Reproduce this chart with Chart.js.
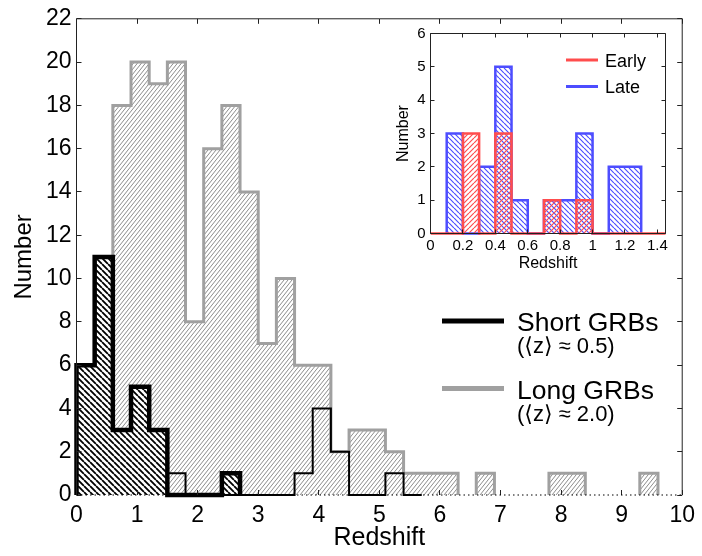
<!DOCTYPE html>
<html>
<head>
<meta charset="utf-8">
<title>GRB redshift distribution</title>
<script src="https://cdn.jsdelivr.net/npm/chart.js@4.4.0/dist/chart.umd.min.js"></script>
<style>
  html, body { margin: 0; padding: 0; background: #fff; }
  #wrap { position: relative; width: 702px; height: 556px; overflow: hidden; }
  #main { position: absolute; left: 0; top: 0; }
  #inset { position: absolute; left: 384px; top: 18px; }
</style>
</head>
<body>
<div id="wrap">
  <canvas id="main" width="702" height="556"></canvas>
  <canvas id="inset" width="305" height="265"></canvas>
</div>
<script>
// ---- main histogram: redshift bins of 0.3 ----
const binWidth = 0.3;
const longStart = 0.6;
const longCounts = [18, 20, 19, 20, 8, 16, 18, 14, 7, 10, 6, 6, 2, 3, 3, 2, 1, 1, 1, 0, 1, 0, 0, 0, 1, 1, 0, 0, 0, 1];
const shortStart = 0;
const shortCounts = [6, 11, 3, 5, 3, 0, 0, 0, 1];
const shortFaintStart = 1.5;
const shortFaintCounts = [1, 0, 0, 0, 0, 0, 0, 1, 4, 2, 0, 0, 1, 0];

const legendNames = ['Short GRBs', 'Long GRBs'];
const meanZ = [0.5, 2.0];

const xTicks = [0, 1, 2, 3, 4, 5, 6, 7, 8, 9, 10];
const yTicks = [0, 2, 4, 6, 8, 10, 12, 14, 16, 18, 20, 22];

// ---- inset: short GRBs split by host type, bins of 0.1 ----
const insetBinWidth = 0.1;
const lateStart = 0.1;
const lateCounts = [3, 0, 2, 5, 1, 0, 1, 1, 3, 0, 2, 2];
const earlyStart = 0;
const earlyCounts = [0, 0, 3, 0, 3, 0, 0, 1, 0, 1, 0, 0, 0, 0, 0];

const insetNames = ['Early', 'Late'];
const insetXTicks = [0, 0.2, 0.4, 0.6, 0.8, 1, 1.2, 1.4];
const insetXLabels = ['0', '0.2', '0.4', '0.6', '0.8', '1', '1.2', '1.4'];
const insetYTicks = [0, 1, 2, 3, 4, 5, 6];

const FONT = '"Liberation Sans", Arial, Helvetica, "DejaVu Sans", sans-serif';

// outline of a histogram as a run of horizontal/vertical points
function stepPoints(start, width, counts) {
    const edge = i => +(start + i * width).toFixed(4);
    const pts = [{x: edge(0), y: 0}];
    counts.forEach((c, i) => {
        pts.push({x: edge(i), y: c});
        pts.push({x: edge(i + 1), y: c});
    });
    pts.push({x: edge(counts.length), y: 0});
    return pts;
}

// diagonal hatch pattern; dir > 0 is "/", dir < 0 is "\"
function hatch(color, step, rise, lineWidth, back, dir) {
    const c = document.createElement('canvas');
    c.width = step;
    c.height = rise;
    const g = c.getContext('2d');
    if (back) {
        g.fillStyle = back;
        g.fillRect(0, 0, step, rise);
    }
    g.strokeStyle = color;
    g.lineWidth = lineWidth;
    g.beginPath();
    for (let k = -1; k <= 1; k++) {
        if (dir > 0) {
            g.moveTo(k * step, rise);
            g.lineTo((k + 1) * step, 0);
        } else {
            g.moveTo(k * step, 0);
            g.lineTo((k + 1) * step, rise);
        }
    }
    g.stroke();
    return g.createPattern(c, 'repeat');
}

const hideZeroRuns = {
    borderColor: s => (s.p0.parsed.y === 0 && s.p1.parsed.y === 0) ? 'rgba(0,0,0,0)' : undefined
};

// box with inward ticks on all four sides
const framePlugin = {
    id: 'frame',
    afterDatasetsDraw(chart, args, o) {
        const {ctx, chartArea: a, scales: {x, y}} = chart;
        const snap = v => Math.round(v - 0.5) + 0.5;
        ctx.save();
        ctx.strokeStyle = o.color;
        ctx.lineWidth = 1;
        ctx.beginPath();
        x.ticks.forEach(t => {
            const px = snap(x.getPixelForValue(t.value));
            ctx.moveTo(px, a.bottom); ctx.lineTo(px, a.bottom - o.tick);
            ctx.moveTo(px, a.top); ctx.lineTo(px, a.top + o.tick);
        });
        y.ticks.forEach(t => {
            const py = snap(y.getPixelForValue(t.value));
            ctx.moveTo(a.left, py); ctx.lineTo(a.left + o.tick, py);
            ctx.moveTo(a.right, py); ctx.lineTo(a.right - o.tick, py);
        });
        ctx.moveTo(a.left, a.bottom);
        ctx.lineTo(a.left, a.top);
        ctx.lineTo(a.right, a.top);
        ctx.lineTo(a.right, a.bottom);
        if (!o.dottedBase) ctx.lineTo(a.left, a.bottom);
        ctx.stroke();
        if (o.dottedBase) {
            ctx.setLineDash([1.5, 3]);
            ctx.strokeStyle = '#000';
            ctx.beginPath();
            ctx.moveTo(a.left, a.bottom);
            ctx.lineTo(a.right, a.bottom);
            ctx.stroke();
        }
        ctx.restore();
    }
};

// legend: line swatch plus name (and optional second line)
const keyPlugin = {
    id: 'key',
    afterDatasetsDraw(chart, args, o) {
        const ctx = chart.ctx;
        ctx.save();
        o.items.forEach(it => {
            ctx.strokeStyle = it.color;
            ctx.lineWidth = o.lineWidth;
            ctx.beginPath();
            ctx.moveTo(o.x0, it.y);
            ctx.lineTo(o.x1, it.y);
            ctx.stroke();
            ctx.fillStyle = '#000';
            ctx.textBaseline = 'alphabetic';
            ctx.font = o.size + 'px ' + FONT;
            ctx.fillText(it.name, o.tx, it.y + o.base);
            if (it.sub) {
                ctx.font = o.subSize + 'px ' + FONT;
                ctx.fillText(it.sub, o.tx, it.y + o.subBase);
            }
        });
        ctx.restore();
    }
};

function fixedTicks(values) {
    return scale => { scale.ticks = values.map(v => ({value: v})); };
}

const noGrid = {display: false, drawTicks: false};

// ---- main chart ----
const mainCtx = document.getElementById('main').getContext('2d');
new Chart(mainCtx, {
    type: 'line',
    data: {
        datasets: [{
            label: 'Short GRBs (uncertain)',
            data: stepPoints(shortFaintStart, binWidth, shortFaintCounts),
            borderColor: '#000',
            borderWidth: 2,
            fill: false,
            order: 1
        }, {
            label: legendNames[0],
            data: stepPoints(shortStart, binWidth, shortCounts),
            borderColor: '#000',
            borderWidth: 4.5,
            fill: 'origin',
            backgroundColor: hatch('#000', 6, 6, 1.8, '#fff', -1),
            order: 2
        }, {
            label: legendNames[1],
            data: stepPoints(longStart, binWidth, longCounts),
            borderColor: '#a0a0a0',
            borderWidth: 3,
            fill: 'origin',
            backgroundColor: hatch('#8c8c8c', 4, 5, 1, null, 1),
            segment: hideZeroRuns,
            order: 3
        }]
    },
    options: {
        responsive: false,
        animation: false,
        devicePixelRatio: 1,
        clip: 6,
        layout: {padding: {left: 0, right: 16.5, top: 15.5, bottom: 0}},
        elements: {
            point: {radius: 0},
            line: {tension: 0, borderJoinStyle: 'miter'}
        },
        scales: {
            x: {
                type: 'linear',
                min: 0,
                max: 10,
                afterBuildTicks: fixedTicks(xTicks),
                afterFit: s => { s.height = 61; },
                grid: noGrid,
                border: {display: false},
                ticks: {color: '#000', font: {family: FONT, size: 23}, padding: 7, maxRotation: 0, autoSkip: false},
                title: {display: true, text: 'Redshift', color: '#000', font: {family: FONT, size: 25}, padding: {top: 0, bottom: 3}}
            },
            y: {
                type: 'linear',
                min: 0,
                max: 22,
                afterBuildTicks: fixedTicks(yTicks),
                afterFit: s => { s.width = 76.5; },
                grid: noGrid,
                border: {display: false},
                ticks: {color: '#000', font: {family: FONT, size: 23}, padding: 5, autoSkip: false},
                title: {display: true, text: 'Number', color: '#000', font: {family: FONT, size: 24}, padding: {top: 10, bottom: 0}}
            }
        },
        plugins: {
            legend: {display: false},
            tooltip: {enabled: false},
            frame: {color: '#222', tick: 5, dottedBase: true},
            key: {
                x0: 442, x1: 504, tx: 517, lineWidth: 5, size: 26.5, subSize: 22,
                base: 10, subBase: 32,
                items: legendNames.map((name, i) => ({
                    name: name,
                    sub: '(\u27E8z\u27E9 \u2248 ' + meanZ[i].toFixed(1) + ')',
                    color: i === 0 ? '#000' : '#a0a0a0',
                    y: i === 0 ? 321 : 388.5
                }))
            }
        }
    },
    plugins: [framePlugin, keyPlugin]
});

// ---- inset chart ----
const insetCtx = document.getElementById('inset').getContext('2d');
const RED = 'rgb(255,77,77)';
const BLUE = 'rgb(77,77,255)';
new Chart(insetCtx, {
    type: 'line',
    data: {
        datasets: [{
            label: insetNames[0],
            data: stepPoints(earlyStart, insetBinWidth, earlyCounts),
            borderColor: RED,
            borderWidth: 2.5,
            fill: 'origin',
            backgroundColor: hatch(RED, 5, 5, 1.2, null, 1),
            order: 1
        }, {
            label: insetNames[1],
            data: stepPoints(lateStart, insetBinWidth, lateCounts),
            borderColor: BLUE,
            borderWidth: 2.5,
            fill: 'origin',
            backgroundColor: hatch(BLUE, 5, 5, 1.2, null, -1),
            order: 2
        }]
    },
    options: {
        responsive: false,
        animation: false,
        devicePixelRatio: 1,
        clip: {left: 0, right: 0, top: 4, bottom: 4},
        layout: {padding: {left: 0, right: 23.5, top: 15.5, bottom: 0}},
        elements: {
            point: {radius: 0},
            line: {tension: 0, borderJoinStyle: 'miter'}
        },
        scales: {
            x: {
                type: 'linear',
                min: 0,
                max: 1.45,
                afterBuildTicks: fixedTicks(insetXTicks),
                afterFit: s => { s.height = 49.5; },
                grid: noGrid,
                border: {display: false},
                ticks: {
                    color: '#000', font: {family: FONT, size: 15}, padding: 3, maxRotation: 0, autoSkip: false,
                    callback: (v, i) => insetXLabels[i]
                },
                title: {display: true, text: 'Redshift', color: '#000', font: {family: FONT, size: 16}, padding: {top: 0, bottom: 10}}
            },
            y: {
                type: 'linear',
                min: 0,
                max: 6,
                afterBuildTicks: fixedTicks(insetYTicks),
                afterFit: s => { s.width = 46.5; },
                grid: noGrid,
                border: {display: false},
                ticks: {color: '#000', font: {family: FONT, size: 15}, padding: 5, autoSkip: false},
                title: {display: true, text: 'Number', color: '#000', font: {family: FONT, size: 16}, padding: {top: 10, bottom: 0}}
            }
        },
        plugins: {
            legend: {display: false},
            tooltip: {enabled: false},
            frame: {color: '#222', tick: 4, dottedBase: false},
            key: {
                x0: 182, x1: 214, tx: 221, lineWidth: 3, size: 18, subSize: 18,
                base: 6.5, subBase: 0,
                items: insetNames.map((name, i) => ({
                    name: name,
                    color: i === 0 ? RED : BLUE,
                    y: i === 0 ? 42 : 68.5
                }))
            }
        }
    },
    plugins: [keyPlugin, framePlugin]
});
</script>
</body>
</html>
